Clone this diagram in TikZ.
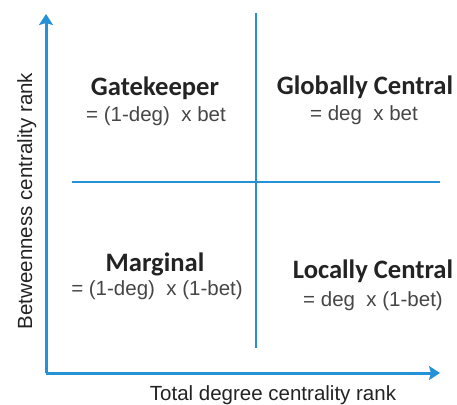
\documentclass[tikz,border=0pt]{standalone}
\usepackage{fontspec}
\setmainfont{Liberation Sans}
\newfontfamily\titlefont{Carlito}
\usetikzlibrary{arrows.meta}
\definecolor{axisblue}{RGB}{38,146,214}
\definecolor{txtgray}{RGB}{35,35,35}
\definecolor{frmgray}{RGB}{70,70,70}
\tikzset{
  axisline/.style={draw=axisblue, line width=3pt, -{Stealth[length=11pt,width=14pt,inset=2pt]}},
  divline/.style={draw=axisblue, line width=2.6pt},
  ttl/.style={anchor=base, inner sep=0pt, font=\titlefont\bfseries\fontsize{26.6}{31}\selectfont, text=txtgray},
  formula/.style={anchor=base, inner sep=0pt, font=\fontsize{20.5}{24}\selectfont, text=frmgray},
  axlabel/.style={anchor=base, inner sep=0pt, font=\fontsize{20.5}{24}\selectfont, text=txtgray}
}
\begin{document}
\begin{tikzpicture}[x=1pt,y=-1pt]
\useasboundingbox (0,0) rectangle (457,404);
\coordinate (origin) at (46,373);
\coordinate (ytip) at (46,14);
\coordinate (xtip) at (440,373);
\coordinate (vtop) at (256,13);
\coordinate (vbot) at (256,348);
\coordinate (hleft) at (72,182);
\coordinate (hright) at (440,182);
\draw[divline] (vtop) -- (vbot);
\draw[divline] (hleft) -- (hright);
\draw[axisline] (origin) -- (ytip);
\draw[axisline] (origin) -- (xtip);
\node[ttl] (gk) at (155,95) {Gatekeeper};
\node[formula] (gkf) at (156,121) {= (1-deg)\ \ x bet};
\node[ttl] (gc) at (365,94) {Globally Central};
\node[formula] (gcf) at (364,120) {= deg\ \ x bet};
\node[ttl] (mg) at (155,271) {Marginal};
\node[formula] (mgf) at (157,295) {= (1-deg)\ \ x (1-bet)};
\node[ttl] (lc) at (373,278) {Locally Central};
\node[formula] (lcf) at (373,306) {= deg\ \ x (1-bet)};
\node[axlabel] (xl) at (273,400) {Total degree centrality rank};
\node[axlabel, rotate=90] (yl) at (32,201) {Betweenness centrality rank};
\end{tikzpicture}
\end{document}
